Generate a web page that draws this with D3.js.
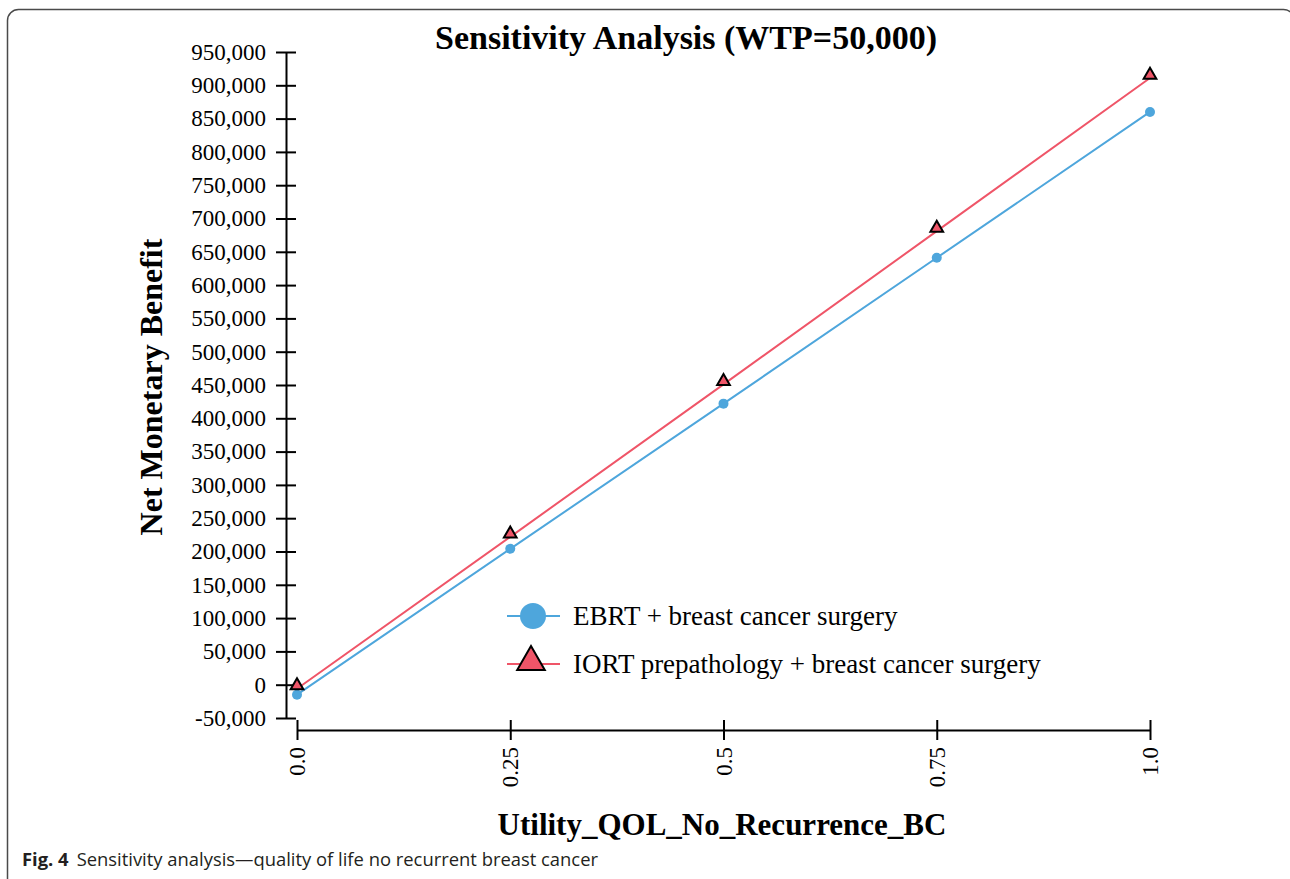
<!DOCTYPE html>
<html lang="en">
<head>
    <meta charset="UTF-8">
    <title>Sensitivity Analysis</title>
    <script src="https://cdn.jsdelivr.net/npm/d3@7"></script>
    <style>
        body { margin: 0; background: #fff; }
        svg { display: block; }
    </style>
</head>
<body>
    <svg width="1290" height="879"></svg>

<script>
    // data
    var utilities = [0, 0.25, 0.5, 0.75, 1.0];
    var xTickLabels = ["0.0", "0.25", "0.5", "0.75", "1.0"];
    var ebrt = [-15000, 204000, 422000, 641000, 860000];
    var iort = [-6000, 222000, 451000, 681000, 911000];
    var seriesNames = ["EBRT + breast cancer surgery", "IORT prepathology + breast cancer surgery"];
    var yTicks = d3.range(-50000, 950001, 50000);

    var width = 1290;
    var height = 879;
    var blue = "#4ea6dc";
    var red = "#ef5568";
    var serif = "'Liberation Serif', 'Times New Roman', serif";

    var svg = d3.select("svg");

    // outer frame of the figure (right and bottom edges run off the page)
    svg.append("rect")
        .attr("x", 7.5).attr("y", 9.5)
        .attr("width", 1287).attr("height", 920)
        .attr("rx", 11)
        .attr("fill", "none")
        .attr("stroke", "#4a4a4a")
        .attr("stroke-width", 1.5);

    var x = d3.scaleLinear().domain([0, 1]).range([297, 1150]);
    var y = d3.scaleLinear().domain([-50000, 950000]).range([718, 52]);

    // y axis
    var yAxis = svg.append("g")
        .attr("transform", "translate(286,0)")
        .call(d3.axisLeft(y).tickValues(yTicks).tickSize(10).tickSizeOuter(0)
            .tickFormat(function(d) { return d3.format(",")(d).replace("−", "-"); }));
    yAxis.select(".domain").attr("stroke", "#000").attr("stroke-width", 2);
    yAxis.selectAll(".tick line").attr("x1", 10).attr("x2", -10).attr("stroke-width", 2);
    yAxis.selectAll(".tick text")
        .attr("x", -20)
        .style("font-family", serif)
        .style("font-size", "23px")
        .attr("fill", "#000");

    // x axis
    var xAxis = svg.append("g")
        .attr("transform", "translate(0,730)")
        .call(d3.axisBottom(x).tickValues(utilities).tickSize(10).tickSizeOuter(0)
            .tickFormat(function(d, i) { return xTickLabels[i]; }));
    xAxis.select(".domain").attr("stroke", "#000").attr("stroke-width", 2);
    xAxis.selectAll(".tick line").attr("y1", -10).attr("y2", 10).attr("stroke-width", 2);
    xAxis.selectAll(".tick text")
        .attr("transform", "rotate(-90)")
        .attr("x", -17)
        .attr("y", 0)
        .attr("dy", "0.33em")
        .attr("text-anchor", "end")
        .style("font-family", serif)
        .style("font-size", "23px")
        .attr("fill", "#000");

    // lines
    var line = d3.line()
        .x(function(d, i) { return x(utilities[i]); })
        .y(function(d) { return y(d); });

    svg.append("path").datum(ebrt)
        .attr("d", line)
        .attr("fill", "none").attr("stroke", blue).attr("stroke-width", 2);
    svg.append("path").datum(iort)
        .attr("d", line)
        .attr("fill", "none").attr("stroke", red).attr("stroke-width", 2);

    // markers
    svg.append("g").selectAll("circle")
        .data(ebrt).enter()
        .append("circle")
        .attr("cx", function(d, i) { return x(utilities[i]); })
        .attr("cy", function(d) { return y(d); })
        .attr("r", 5)
        .attr("fill", blue);

    var tri = d3.symbol().type(d3.symbolTriangle).size(70);
    svg.append("g").selectAll("path")
        .data(iort).enter()
        .append("path")
        .attr("d", tri)
        .attr("transform", function(d, i) { return "translate(" + x(utilities[i]) + "," + (y(d) - 3) + ")"; })
        .attr("fill", red)
        .attr("stroke", "#000")
        .attr("stroke-width", 2)
        .attr("stroke-linejoin", "miter");

    // legend
    var legend = svg.append("g");
    var rows = [{ y: 616, color: blue, shape: "circle" }, { y: 664, color: red, shape: "triangle" }];
    rows.forEach(function(r, i) {
        legend.append("line")
            .attr("x1", 507).attr("x2", 560)
            .attr("y1", r.y).attr("y2", r.y)
            .attr("stroke", r.color).attr("stroke-width", 2);
        if (r.shape === "circle") {
            legend.append("circle")
                .attr("cx", 533).attr("cy", r.y).attr("r", 13)
                .attr("fill", r.color);
        } else {
            legend.append("path")
                .attr("d", d3.symbol().type(d3.symbolTriangle).size(330))
                .attr("transform", "translate(531," + (r.y - 2) + ")")
                .attr("fill", r.color)
                .attr("stroke", "#000")
                .attr("stroke-width", 2);
        }
        legend.append("text")
            .attr("x", 573).attr("y", r.y + 9)
            .style("font-family", serif)
            .style("font-size", "27px")
            .text(seriesNames[i]);
    });

    // titles
    svg.append("text")
        .attr("x", 686).attr("y", 49)
        .attr("text-anchor", "middle")
        .style("font-family", serif)
        .style("font-weight", "bold")
        .style("font-size", "34px")
        .text("Sensitivity Analysis (WTP=50,000)");

    svg.append("text")
        .attr("transform", "translate(162,387) rotate(-90)")
        .attr("text-anchor", "middle")
        .style("font-family", serif)
        .style("font-weight", "bold")
        .style("font-size", "32px")
        .text("Net Monetary Benefit");

    svg.append("text")
        .attr("x", 722).attr("y", 835)
        .attr("text-anchor", "middle")
        .style("font-family", serif)
        .style("font-weight", "bold")
        .style("font-size", "31px")
        .text("Utility_QOL_No_Recurrence_BC");

    // caption
    var cap = svg.append("text")
        .attr("x", 22).attr("y", 866)
        .style("font-family", "'Open Sans', 'Noto Sans', sans-serif")
        .style("font-size", "18.4px")
        .attr("fill", "#231f20");
    cap.append("tspan").style("font-weight", "bold").text("Fig. 4");
    cap.append("tspan").attr("dx", 8).text("Sensitivity analysis\u2014quality of life no recurrent breast cancer");
</script>
</body>
</html>
